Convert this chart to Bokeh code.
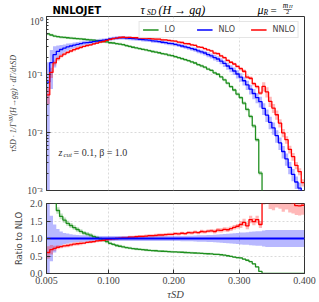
import numpy as np
from bokeh.plotting import figure
from bokeh.layouts import column
from bokeh.models import (Label, FixedTicker, CustomJSTickFormatter, Range1d,
                          Legend, LegendItem)
from bokeh.embed import file_html
from bokeh.resources import INLINE

# ---------------- data ----------------
tau_edges = np.linspace(0.005, 0.400, 80)   # 79 bins of width 0.005

lo = np.array([
    0.50, 0.48, 0.46, 0.45, 0.44, 0.435, 0.43, 0.425, 0.42, 0.415,
    0.41, 0.405, 0.40, 0.395, 0.39, 0.385, 0.38, 0.37, 0.365, 0.353,
    0.349, 0.34, 0.335, 0.327, 0.315, 0.305, 0.295, 0.287, 0.28, 0.272,
    0.265, 0.257, 0.249, 0.244, 0.237, 0.229, 0.224, 0.216, 0.211, 0.203,
    0.195, 0.188, 0.18, 0.173, 0.165, 0.158, 0.148, 0.141, 0.134, 0.124,
    0.118, 0.107, 0.101, 0.091, 0.081, 0.071, 0.062, 0.054, 0.046, 0.040,
    0.032, 0.025, 0.019, 0.013, 0.0075, 0.002, 0.0, 0.0, 0.0, 0.0,
    0.0, 0.0, 0.0, 0.0, 0.0, 0.0, 0.0, 0.0, 0.0])

nlo = np.array([
    0.074, 0.16, 0.22, 0.25, 0.27, 0.285, 0.30, 0.31, 0.32, 0.33,
    0.34, 0.35, 0.355, 0.36, 0.37, 0.375, 0.385, 0.39, 0.40, 0.41,
    0.42, 0.425, 0.43, 0.43, 0.425, 0.42, 0.415, 0.41, 0.405, 0.40,
    0.395, 0.39, 0.38, 0.375, 0.37, 0.36, 0.355, 0.345, 0.34, 0.33,
    0.32, 0.31, 0.30, 0.29, 0.28, 0.27, 0.255, 0.245, 0.235, 0.22,
    0.21, 0.195, 0.185, 0.17, 0.155, 0.14, 0.127, 0.115, 0.102, 0.09,
    0.078, 0.066, 0.056, 0.047, 0.040, 0.034, 0.026, 0.020, 0.015, 0.012,
    0.0088, 0.0066, 0.0047, 0.0035, 0.0025, 0.0019, 0.0014, 0.0011, 0.0007])

nnlo_to_nlo = np.array([
    0.60, 0.68, 0.72, 0.75, 0.77, 0.79, 0.80, 0.82, 0.84, 0.85,
    0.86, 0.87, 0.89, 0.90, 0.91, 0.93, 0.94, 0.95, 0.97, 0.98,
    0.99, 1.00, 1.01, 1.02, 1.02, 1.04, 1.04, 1.05, 1.06, 1.06,
    1.07, 1.08, 1.08, 1.09, 1.10, 1.10, 1.11, 1.12, 1.12, 1.14,
    1.13, 1.15, 1.14, 1.17, 1.16, 1.18, 1.17, 1.20, 1.19, 1.21,
    1.22, 1.20, 1.24, 1.23, 1.26, 1.25, 1.28, 1.32, 1.35, 1.40,
    1.46, 1.36, 1.54, 1.48, 1.54, 1.40, 2.40, 2.50, 2.30, 2.20,
    2.30, 2.20, 2.10, 2.15, 2.05, 2.02, 1.94, 1.93, 1.95])

lo_unc = np.array([
    0.05, 0.05, 0.05, 0.05, 0.05, 0.05, 0.05, 0.05, 0.05, 0.05,
    0.05, 0.05, 0.05, 0.05, 0.05, 0.05, 0.05, 0.05, 0.05, 0.05,
    0.05, 0.05, 0.05, 0.05, 0.05, 0.05, 0.05, 0.05, 0.05, 0.05,
    0.05, 0.05, 0.05, 0.05, 0.05, 0.05, 0.05, 0.05, 0.05, 0.05,
    0.05, 0.05, 0.05, 0.05, 0.05, 0.05, 0.05, 0.05, 0.05, 0.05,
    0.05, 0.05, 0.05, 0.05, 0.055, 0.055, 0.055, 0.06, 0.06, 0.06,
    0.065, 0.07, 0.07, 0.08, 0.08, 0.08, 0.0, 0.0, 0.0, 0.0,
    0.0, 0.0, 0.0, 0.0, 0.0, 0.0, 0.0, 0.0, 0.0])

nlo_unc = np.array([
    1.20, 0.65, 0.40, 0.27, 0.20, 0.16, 0.14, 0.12, 0.11, 0.10,
    0.095, 0.09, 0.085, 0.08, 0.08, 0.075, 0.075, 0.07, 0.07, 0.07,
    0.07, 0.07, 0.07, 0.07, 0.07, 0.07, 0.07, 0.07, 0.07, 0.07,
    0.07, 0.07, 0.07, 0.07, 0.07, 0.07, 0.07, 0.07, 0.07, 0.07,
    0.07, 0.075, 0.075, 0.08, 0.08, 0.085, 0.09, 0.09, 0.095, 0.10,
    0.10, 0.11, 0.115, 0.12, 0.13, 0.135, 0.14, 0.15, 0.16, 0.17,
    0.175, 0.18, 0.19, 0.20, 0.205, 0.21, 0.23, 0.24, 0.24, 0.24,
    0.24, 0.24, 0.24, 0.24, 0.24, 0.24, 0.24, 0.24, 0.24])

nnlo_unc = np.array([
    0.30, 0.20, 0.10, 0.08, 0.06, 0.06, 0.06, 0.06, 0.06, 0.06,
    0.06, 0.04, 0.04, 0.04, 0.04, 0.04, 0.04, 0.04, 0.04, 0.04,
    0.04, 0.04, 0.04, 0.04, 0.04, 0.04, 0.04, 0.04, 0.04, 0.04,
    0.04, 0.04, 0.04, 0.04, 0.04, 0.04, 0.04, 0.04, 0.04, 0.04,
    0.04, 0.04, 0.04, 0.04, 0.04, 0.04, 0.04, 0.04, 0.04, 0.04,
    0.04, 0.05, 0.05, 0.05, 0.05, 0.05, 0.05, 0.05, 0.05, 0.07,
    0.07, 0.07, 0.07, 0.07, 0.07, 0.07, 0.18, 0.20, 0.20, 0.18,
    0.18, 0.16, 0.16, 0.15, 0.15, 0.15, 0.14, 0.14, 0.14])

x_ticks = [0.005, 0.1, 0.2, 0.3, 0.4]
x_tick_labels = ["0.005", "0.100", "0.200", "0.300", "0.400"]
y_ticks_main = [0.001, 0.01, 0.1, 1.0]
y_tick_labels_main = ["10\u207b\u00b3", "10\u207b\u00b2", "10\u207b\u00b9", "10\u2070"]
ratio_ticks = [0.0, 0.5, 1.0, 1.5, 2.0]
ratio_tick_labels = ["0.0", "0.5", "1.0", "1.5", "2.0"]

C_LO, C_NLO, C_NNLO = "#1f8f1f", "#0000ff", "#ff0000"
SERIF = "Liberation Serif"
SANS = "DejaVu Sans"
FLOOR = 1e-9
LEFT, RIGHT, FW = 46, 15, 258

nnlo = nnlo_to_nlo * nlo


def ext(a):
    return np.append(a, a[-1])


def nearest_fmt(tv, tl, log=False):
    code = """
    let best = 0, bd = Infinity;
    for (let i = 0; i < tv.length; i++) {
        const d = LOG ? Math.abs(Math.log10(tick) - Math.log10(tv[i])) : Math.abs(tick - tv[i]);
        if (d < bd) { bd = d; best = i; }
    }
    return tl[best];
    """.replace("LOG", "true" if log else "false")
    return CustomJSTickFormatter(args=dict(tv=tv, tl=tl), code=code)


def style_axis(ax):
    ax.major_tick_in = 4
    ax.major_tick_out = 0
    ax.minor_tick_in = 2
    ax.minor_tick_out = 0
    ax.axis_line_color = "#333333"
    ax.major_tick_line_color = "#333333"
    ax.minor_tick_line_color = "#333333"
    ax.major_label_standoff = 4


def style_frame(p):
    p.outline_line_color = "#333333"
    p.outline_line_alpha = 1.0
    for g in (p.xgrid[0], p.ygrid[0]):
        g.grid_line_color = "#d0d0d0"
        g.grid_line_dash = "2 2"
        g.grid_line_width = 0.8


def px2x(px):
    return 0.005 + (px - LEFT) * (0.395 / FW)


# ---------------- header (title line) ----------------
p0 = figure(frame_width=FW, frame_height=16, x_range=Range1d(0.005, 0.4),
            y_range=Range1d(0, 16), output_backend="svg", toolbar_location=None,
            min_border_left=LEFT, min_border_right=RIGHT, min_border_top=0,
            min_border_bottom=0)
p0.axis.visible = False
p0.grid.visible = False
p0.outline_line_color = None


def head(px, py, text, size, style="italic", font=SERIF, align="left"):
    p0.add_layout(Label(x=px2x(px), y=16 - py, text=text, text_font=font,
                        text_font_style=style, text_font_size=size,
                        text_baseline="middle", text_align=align, text_color="black"))


head(52, 9.5, "NNLOJET", "10px", style="bold", font=SANS)
head(140, 9, "\u03c4", "12px")
head(146.5, 11.5, "SD", "7.5px")
head(158, 9, "(H \u2192 gg)", "12px")
head(257, 9, "\u03bc", "12px")
head(263, 11.5, "R", "7.5px")
head(270, 9, "=", "11px", style="normal")
head(285, 4.5, "m", "7.5px", align="center")
head(288.5, 5.8, "H", "5px")
head(287, 8.3, "\u2014", "8px", style="normal", align="center")
head(287, 11.8, "2", "6.5px", style="normal", align="center")

# ---------------- main panel ----------------
p1 = figure(frame_width=FW, frame_height=174, y_axis_type="log",
            x_range=p0.x_range, y_range=Range1d(1e-3, 1.0),
            x_axis_location=None,
            output_backend="svg", toolbar_location=None,
            min_border_left=LEFT, min_border_right=RIGHT, min_border_top=0,
            min_border_bottom=6)
style_frame(p1)
style_axis(p1.yaxis[0])
p1.xgrid.ticker = FixedTicker(ticks=x_ticks, minor_ticks=[])
minor_log = [m * 10.0 ** e for e in (-3, -2, -1) for m in range(2, 10)]
p1.yaxis.ticker = FixedTicker(ticks=y_ticks_main, minor_ticks=minor_log)
p1.yaxis.formatter = nearest_fmt(y_ticks_main, y_tick_labels_main, log=True)
p1.yaxis.major_label_text_font = SERIF
p1.yaxis.major_label_text_font_size = "9.5px"
p1.yaxis.axis_label = "\u03c4SD \u00b7 1/\u0393\u207d\u2070\u207e(H\u2192gg) \u00b7 d\u0393/d\u03c4SD"
p1.yaxis.axis_label_text_font = SERIF
p1.yaxis.axis_label_text_font_style = "italic"
p1.yaxis.axis_label_text_font_size = "8px"
p1.yaxis.axis_label_standoff = 6

x = tau_edges
for vals, unc, col in ((lo, lo_unc, C_LO), (nlo, nlo_unc, C_NLO), (nnlo, nnlo_unc, C_NNLO)):
    lo_b = np.clip(vals * (1 - unc), FLOOR, None)
    hi_b = np.clip(vals * (1 + unc), FLOOR, None)
    p1.varea_step(x=x, y1=ext(lo_b), y2=ext(hi_b), step_mode="after",
                  fill_color=col, fill_alpha=0.28)

renderers = []
for vals, col in ((lo, C_LO), (nlo, C_NLO), (nnlo, C_NNLO)):
    r = p1.step(x=x, y=ext(np.clip(vals, FLOOR, None)), mode="after",
                line_color=col, line_width=1.3)
    renderers.append(r)

legend = Legend(items=[LegendItem(label="LO", renderers=[renderers[0]]),
                       LegendItem(label="NLO", renderers=[renderers[1]]),
                       LegendItem(label="NNLO", renderers=[renderers[2]])],
                orientation="horizontal", location="top_right",
                label_text_font=SANS, label_text_font_size="8px",
                glyph_width=16, glyph_height=9, label_height=9,
                label_standoff=6, spacing=12, padding=3, margin=5,
                border_line_color="#cccccc", border_line_width=1,
                background_fill_alpha=0.85)
p1.add_layout(legend)


def px2y(py):
    return 10 ** ((16 - py) / 58.0)


note_y = px2y(152)
p1.add_layout(Label(x=px2x(58), y=note_y, text="z", text_font=SERIF,
                    text_font_style="italic", text_font_size="10px", text_color="#333333",
                    text_baseline="middle", text_align="left"))
p1.add_layout(Label(x=px2x(63), y=note_y, y_offset=-2.5, text="cut", text_font=SERIF,
                    text_font_style="italic", text_font_size="7px", text_color="#333333",
                    text_baseline="middle", text_align="left"))
p1.add_layout(Label(x=px2x(73), y=note_y, text="= 0.1, \u03b2 = 1.0", text_font=SERIF,
                    text_font_size="10px", text_color="#333333",
                    text_baseline="middle", text_align="left"))

# ---------------- ratio panel ----------------
p2 = figure(frame_width=FW, frame_height=70,
            x_range=p0.x_range, y_range=Range1d(0.0, 2.0),
            output_backend="svg", toolbar_location=None,
            min_border_left=LEFT, min_border_right=RIGHT, min_border_top=7,
            min_border_bottom=0)
style_frame(p2)
style_axis(p2.xaxis[0])
style_axis(p2.yaxis[0])
p2.xaxis.ticker = FixedTicker(ticks=x_ticks, minor_ticks=[])
p2.xaxis.formatter = nearest_fmt(x_ticks, x_tick_labels)
p2.xaxis.major_label_text_font = SERIF
p2.xaxis.major_label_text_font_size = "10px"
p2.xaxis.major_label_standoff = 3
p2.xaxis.axis_label = "\u03c4SD"
p2.xaxis.axis_label_text_font = SERIF
p2.xaxis.axis_label_text_font_style = "italic"
p2.xaxis.axis_label_text_font_size = "10.5px"
p2.xaxis.axis_label_standoff = 2
p2.yaxis.ticker = FixedTicker(ticks=ratio_ticks, minor_ticks=[])
p2.yaxis.formatter = nearest_fmt(ratio_ticks, ratio_tick_labels)
p2.yaxis.major_label_text_font = SERIF
p2.yaxis.major_label_text_font_size = "10px"
p2.yaxis.axis_label = "Ratio to NLO"
p2.yaxis.axis_label_text_font = SANS
p2.yaxis.axis_label_text_font_style = "normal"
p2.yaxis.axis_label_text_font_size = "8.5px"
p2.yaxis.axis_label_standoff = 3

lo_r = lo / nlo
ones = np.ones_like(nlo)
ratio_sets = ((ones, nlo_unc, C_NLO), (lo_r, lo_unc, C_LO), (nnlo_to_nlo, nnlo_unc, C_NNLO))
for vals, unc, col in ratio_sets:
    p2.varea_step(x=x, y1=ext(vals * (1 - unc)), y2=ext(vals * (1 + unc)),
                  step_mode="after", fill_color=col, fill_alpha=0.28)
p2.step(x=x, y=ext(lo_r), mode="after", line_color=C_LO, line_width=1.3)
p2.step(x=x, y=ext(nnlo_to_nlo), mode="after", line_color=C_NNLO, line_width=1.3)
p2.step(x=x, y=ext(ones), mode="after", line_color=C_NLO, line_width=2)

layout = column(p0, p1, p2, spacing=0)
open("out.html", "w").write(file_html(layout, INLINE))
